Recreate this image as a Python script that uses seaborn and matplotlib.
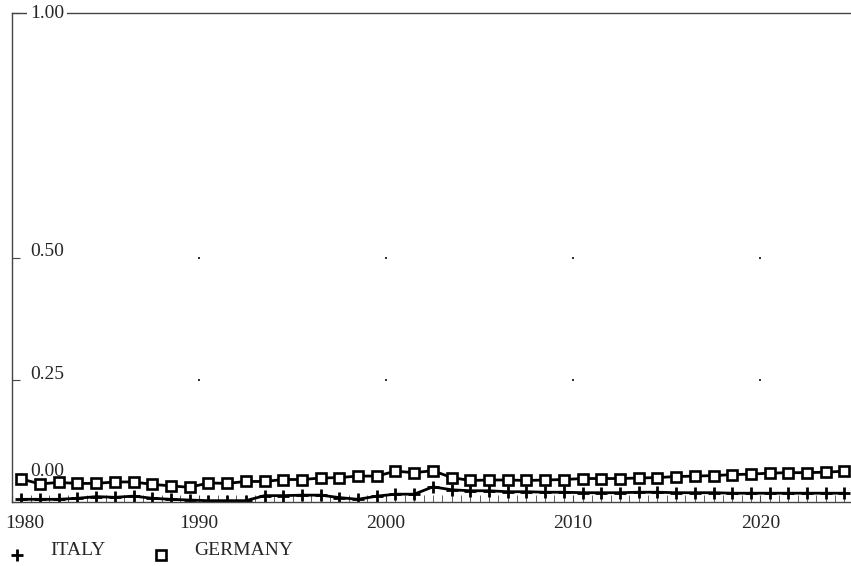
import numpy as np
import pandas as pd
import seaborn as sns
import matplotlib.pyplot as plt
import matplotlib.transforms as mtransforms
from matplotlib.lines import Line2D
from matplotlib.ticker import MultipleLocator

# data (share, 0-1 scale)
years = list(range(1980, 2025))
italy = [0.0055, 0.0055, 0.0055, 0.0076, 0.011, 0.0096, 0.012, 0.0076, 0.0055, 0.004,
         0.0027, 0.0027, 0.0027, 0.013, 0.013, 0.014, 0.014, 0.009, 0.0055, 0.012,
         0.016, 0.016, 0.031, 0.025, 0.023, 0.023, 0.021, 0.021, 0.020, 0.020,
         0.019, 0.019, 0.019, 0.020, 0.020, 0.019, 0.019, 0.019, 0.018, 0.018,
         0.018, 0.018, 0.018, 0.018, 0.018]
germany = [0.047, 0.037, 0.040, 0.038, 0.038, 0.041, 0.041, 0.036, 0.033, 0.030,
           0.039, 0.038, 0.042, 0.042, 0.046, 0.046, 0.049, 0.050, 0.053, 0.053,
           0.063, 0.060, 0.064, 0.050, 0.044, 0.045, 0.045, 0.044, 0.045, 0.046,
           0.048, 0.048, 0.048, 0.049, 0.050, 0.052, 0.053, 0.054, 0.056, 0.057,
           0.059, 0.060, 0.060, 0.061, 0.063]
x_ticks = [1980, 1990, 2000, 2010, 2020]
y_ticks = [0.0, 0.25, 0.50, 1.00]
y_labels = ['0.00', '0.25', '0.50', '1.00']

df = pd.DataFrame({'year': years, 'ITALY': italy, 'GERMANY': germany})
df['t'] = df['year'] + 0.5  # annual points sit mid-year

sns.set_style('white')
plt.rcParams['font.family'] = ['Liberation Serif', 'DejaVu Serif']

fig = plt.figure(figsize=(8.51, 5.66), dpi=100)
ax = fig.add_axes([12 / 851, 1 - 502 / 566, 1 - 12 / 851, (502 - 13) / 566])

plus_style = dict(marker='+', markersize=9, markeredgewidth=2.0, markeredgecolor='black')
square_style = dict(marker='s', markersize=7, markeredgewidth=1.9, markeredgecolor='black',
                    markerfacecolor='white')

sns.lineplot(data=df, x='t', y='ITALY', ax=ax, color='black', lw=2.0, **plus_style)
sns.lineplot(data=df, x='t', y='GERMANY', ax=ax, color='black', lw=2.0, **square_style)

ax.set_xlim(1980.05, 2024.85)
ax.set_ylim(0, 1)
ax.set_xlabel('')
ax.set_ylabel('')

for side in ['left', 'top', 'bottom']:
    ax.spines[side].set_color('#444444')
    ax.spines[side].set_linewidth(1.0)
ax.spines['right'].set_visible(False)

ax.set_xticks(x_ticks)
ax.set_xticklabels([str(x) for x in x_ticks])
ax.xaxis.set_minor_locator(MultipleLocator(0.5))
ax.tick_params(axis='x', which='both', direction='in', length=5, color='#444444',
               labelsize=14, pad=9, bottom=True)
lab0 = ax.get_xticklabels()[0]
lab0.set_horizontalalignment('left')
lab0.set_transform(lab0.get_transform() + mtransforms.ScaledTranslation(-7 / 100, 0, fig.dpi_scale_trans))

ax.set_yticks(y_ticks)
ax.tick_params(axis='y', direction='in', length=6, color='#444444', labelleft=False, left=True)

# y labels sit inside the frame, a little above their ticks
offsets = {0.0: 30, 0.25: 5, 0.50: 6, 1.00: -1}
for val, lab in zip(y_ticks, y_labels):
    kw = {}
    if val == 1.0:
        kw['bbox'] = dict(facecolor='white', edgecolor='none', pad=2)
    ax.annotate(lab, xy=(0, val), xycoords=('axes fraction', 'data'),
                xytext=(18, offsets[val]), textcoords='offset pixels',
                ha='left', va='center', fontsize=14, annotation_clip=False, zorder=5, **kw)

# dotted grid marks at decade / level crossings
gx, gy = np.meshgrid(x_ticks[1:], [0.25, 0.50])
ax.scatter(gx.ravel(), gy.ravel(), s=1.5, marker='s', color='#333333', lw=0, zorder=1)

handles = [Line2D([], [], ls='none', color='black', **plus_style),
           Line2D([], [], ls='none', color='black', **square_style)]
leg = fig.legend(handles, ['ITALY', 'GERMANY'], loc='center left',
                 bbox_to_anchor=(7 / 851, 1 - 550 / 566),
                 ncol=2, frameon=False, fontsize=14, handlelength=1.0, handletextpad=1.2,
                 columnspacing=2.4, borderpad=0, borderaxespad=0)
# legend symbols hang a bit below the text line
for h in leg.legend_handles:
    h.set_transform(h.get_transform() + mtransforms.ScaledTranslation(0, -7 / 100, fig.dpi_scale_trans))

fig.savefig('out.png', dpi=100)
